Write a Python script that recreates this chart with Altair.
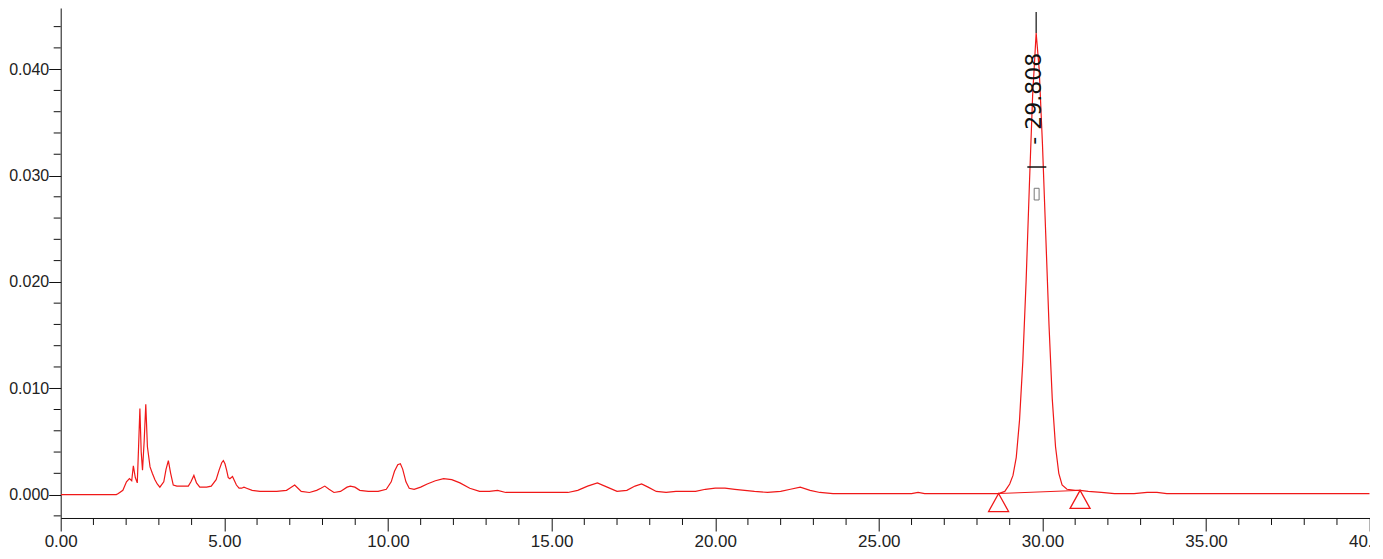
import altair as alt
import pandas as pd

# ---- chromatogram trace (time in min, signal in AU) ----
time_min = [0.0, 1.0, 1.7, 1.76, 1.9, 2.01, 2.1, 2.17, 2.22, 2.28, 2.34, 2.38, 2.42, 2.46, 2.50,
            2.55, 2.60, 2.65, 2.73, 2.80, 2.88, 2.95, 3.03, 3.15, 3.22, 3.29, 3.36, 3.44, 3.55,
            3.64, 3.75, 3.90, 3.98, 4.07, 4.15, 4.25, 4.46, 4.60, 4.75, 4.84, 4.92, 4.97, 5.02,
            5.07, 5.12, 5.17, 5.25, 5.31, 5.37, 5.45, 5.53, 5.60, 5.68, 5.85, 6.09, 6.60, 6.90,
            7.00, 7.15, 7.25, 7.35, 7.60, 7.82, 7.95, 8.07, 8.20, 8.35, 8.55, 8.75, 8.85, 8.99,
            9.14, 9.4, 9.7, 9.95, 10.1, 10.2, 10.3, 10.38, 10.45, 10.55, 10.65, 10.8, 11.0, 11.2,
            11.45, 11.7, 11.95, 12.2, 12.5, 12.8, 13.1, 13.35, 13.6, 14.0, 14.5, 15.0, 15.5, 15.8,
            16.1, 16.4, 16.7, 17.0, 17.3, 17.55, 17.75, 17.95, 18.2, 18.5, 18.8, 19.1, 19.4, 19.7,
            20.0, 20.3, 20.6, 20.9, 21.2, 21.6, 22.0, 22.3, 22.6, 22.9, 23.2, 23.6, 24.0, 24.5,
            25.0, 25.6, 26.0, 26.2, 26.4, 27.0, 27.6, 28.0, 28.4, 28.66, 28.85, 29.0, 29.1, 29.2,
            29.3, 29.4, 29.5, 29.6, 29.7, 29.808, 29.9, 30.0, 30.1, 30.2, 30.3, 30.4, 30.5, 30.6,
            30.75, 31.0, 31.15, 31.4, 31.8, 32.2, 32.8, 33.2, 33.5, 33.8, 34.5, 35.5, 36.5, 37.5,
            38.5, 39.5, 40.0]
signal_au = [0.0, 0.0, 0.0, 0.0001, 0.0004, 0.0012, 0.0015, 0.0013, 0.0027, 0.0016, 0.0011, 0.0045,
             0.0081, 0.0040, 0.0023, 0.0050, 0.0085, 0.0045, 0.0026, 0.0020, 0.0014, 0.0010, 0.0007,
             0.0012, 0.0024, 0.0032, 0.0020, 0.0009, 0.0008, 0.0008, 0.0008, 0.0008, 0.0012, 0.0018,
             0.0011, 0.0007, 0.0007, 0.0008, 0.0014, 0.0023, 0.0030, 0.0032, 0.0029, 0.0023, 0.0016,
             0.0015, 0.0017, 0.0013, 0.0009, 0.0006, 0.0006, 0.0007, 0.0006, 0.0004, 0.0003, 0.0003,
             0.0004, 0.0006, 0.0009, 0.0006, 0.0003, 0.0002, 0.0004, 0.0006, 0.0008, 0.0005, 0.0002,
             0.0003, 0.0007, 0.0008, 0.0007, 0.0004, 0.0003, 0.0003, 0.0005, 0.0012, 0.0022, 0.0028,
             0.0029, 0.0024, 0.0012, 0.0006, 0.0005, 0.0007, 0.0010, 0.0013, 0.0015, 0.0014, 0.0011,
             0.0006, 0.0003, 0.0003, 0.0004, 0.0002, 0.0002, 0.0002, 0.0002, 0.0002, 0.0004, 0.0008,
             0.0011, 0.0007, 0.0003, 0.0004, 0.0008, 0.0010, 0.0007, 0.0003, 0.0002, 0.0003, 0.0003,
             0.0003, 0.0005, 0.0006, 0.0006, 0.0005, 0.0004, 0.0003, 0.0002, 0.0003, 0.0005, 0.0007,
             0.0004, 0.0002, 0.0001, 0.0001, 0.0001, 0.0001, 0.0001, 0.0001, 0.0002, 0.0001, 0.0001,
             0.0001, 0.0001, 0.0001, 0.0001, 0.0003, 0.0010, 0.0018, 0.0035, 0.0070, 0.0125, 0.0200,
             0.0290, 0.0375, 0.0434, 0.0400, 0.0330, 0.0245, 0.0160, 0.0090, 0.0045, 0.0020, 0.0009,
             0.0005, 0.0004, 0.0004, 0.0003, 0.0002, 0.0001, 0.0001, 0.0002, 0.0002, 0.0001, 0.0001,
             0.0001, 0.0001, 0.0001, 0.0001, 0.0001, 0.0001]

# ---- integration baseline (start / end markers) ----
baseline_t = [28.66, 31.15]
baseline_v = [0.0001, 0.0004]

# ---- peak annotation ----
peak_rt = 29.808
peak_height = 0.0434
peak_label = "- 29.808"

# ---- axes ----
x_major = [0, 5, 10, 15, 20, 25, 30, 35, 40]
x_minor = [t for t in range(1, 40) if t % 5 != 0]
y_major = [0.0, 0.01, 0.02, 0.03, 0.04]
y_minor = [-0.002, 0.002, 0.004, 0.006, 0.008, 0.012, 0.014, 0.016, 0.018, 0.022, 0.024,
           0.026, 0.028, 0.032, 0.034, 0.036, 0.038, 0.042, 0.044]

X_DOM = [0, 40]
Y_DOM = [-0.0022, 0.04575]
W, H = 1309, 510
RED = "#f01818"
INK = "#111111"
AXFONT = "Liberation Sans, Arial"

xs = alt.Scale(domain=X_DOM, nice=False, zero=False)
ys = alt.Scale(domain=Y_DOM, nice=False, zero=False)

x_axis = alt.Axis(values=x_major, format=".2f", tickSize=13, labelPadding=3,
                  grid=False, domainColor=INK, tickColor=INK, labelColor="#222",
                  labelFont=AXFONT, labelFontSize=17, labelFlush=False)
y_axis = alt.Axis(values=y_major, format=".3f", tickSize=12, labelPadding=0,
                  grid=False, domainColor=INK, tickColor=INK, labelColor="#222",
                  labelFont=AXFONT, labelFontSize=16)


def X(field):
    return alt.X(field, type="quantitative", scale=xs, title=None, axis=x_axis)


def Y(field):
    return alt.Y(field, type="quantitative", scale=ys, title=None, axis=y_axis)


trace_df = pd.DataFrame({"t": time_min, "v": signal_au})

trace = alt.Chart(trace_df).mark_line(color=RED, strokeWidth=1.2, clip=True).encode(
    x=X("t"), y=Y("v"))

x_minor_ticks = alt.Chart(pd.DataFrame({"t": x_minor})).mark_rule(color=INK, strokeWidth=1).encode(
    x=X("t"), y=alt.value(H), y2=alt.value(H + 7))
y_minor_ticks = alt.Chart(pd.DataFrame({"v": y_minor})).mark_rule(color=INK, strokeWidth=1).encode(
    y=Y("v"), x=alt.value(0), x2=alt.value(-7))

base_df = pd.DataFrame({"t": baseline_t, "v": baseline_v})
baseline = alt.Chart(base_df).mark_line(color=RED, strokeWidth=1).encode(x=X("t"), y=Y("v"))
markers = alt.Chart(base_df).mark_point(
    shape="M0,0L-1,1.8L1,1.8Z", size=400, filled=False, color=RED, strokeWidth=1.3, opacity=1
).encode(x=X("t"), y=Y("v"))

ann_df = pd.DataFrame({"t": [peak_rt], "v": [peak_height], "label": [peak_label],
                       "lv": [peak_height - 0.0105]})
apex_line = alt.Chart(ann_df).mark_rule(color=INK, strokeWidth=1.2).encode(
    x=X("t"), y=Y("v"), y2=alt.value(4))
label = alt.Chart(ann_df).mark_text(
    angle=270, align="left", baseline="middle", font="DejaVu Sans", fontSize=22, color=INK,
    xOffset=-2
).encode(x=X("t"), y=Y("lv"), text="label:N")

mark_df = pd.DataFrame({"t1": [peak_rt - 0.27], "t2": [peak_rt + 0.31],
                        "v": [peak_height - 0.0126],
                        "r1": [peak_rt - 0.06], "r2": [peak_rt + 0.09],
                        "rv1": [peak_height - 0.0157], "rv2": [peak_height - 0.0146]})
hbar = alt.Chart(mark_df).mark_rule(color=INK, strokeWidth=1.5).encode(
    x=X("t1"), x2="t2:Q", y=Y("v"))
small_box = alt.Chart(mark_df).mark_rect(fill="white", stroke="#777", strokeWidth=1).encode(
    x=X("r1"), x2="r2:Q", y=Y("rv1"), y2="rv2:Q")

chart = alt.layer(
    trace, baseline, markers, x_minor_ticks, y_minor_ticks, apex_line, label, hbar, small_box
).properties(
    width=W, height=H,
    autosize=alt.AutoSizeParams(type="none"),
    padding={"left": 52.7, "top": 0, "right": 0, "bottom": 40},
).configure(background="white").configure_view(stroke=None)

chart.save("out.html", embed_options={"renderer": "svg", "actions": False})
